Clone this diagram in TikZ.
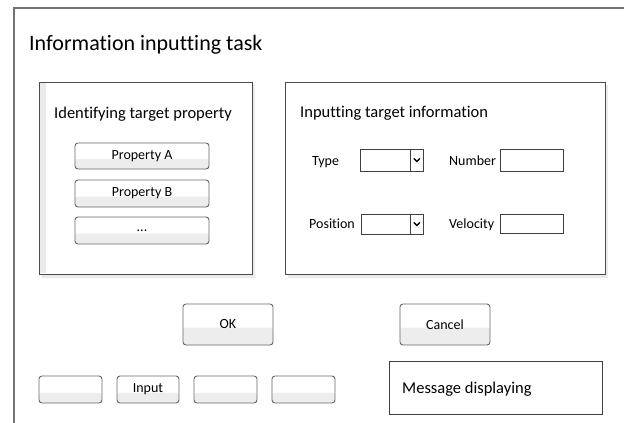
\documentclass[tikz,border=0pt]{standalone}
\usepackage{fontspec}
\setmainfont{Carlito}[Ligatures={NoCommon}]
\begin{document}
\begin{tikzpicture}[x=1pt,y=-1pt,
  btn/.style={draw=black!60, line width=0.9pt, rounded corners=3pt, inner sep=0pt,
    font=\fontsize{14}{16}\selectfont,
    path picture={\fill[black!7] ([yshift=-3pt]path picture bounding box.west) rectangle (path picture bounding box.south east);}},
  panel/.style={draw=black!70, line width=1pt, fill=white},
  shadow/.style={fill=black!8},
  field/.style={draw=black!75, line width=0.8pt, inner sep=0pt, fill=white},
  lbl/.style={inner sep=0pt, font=\fontsize{14}{16}\selectfont, anchor=base west},
  head/.style={inner sep=0pt, font=\fontsize{16.5}{18}\selectfont, anchor=base west},
  chev/.style={line width=1.4pt, black}
]
\useasboundingbox (0,0) rectangle (624,423);
% outer frame
\draw[black!55, line width=1.1pt] (14,430) -- (14,8) -- (630,8);
\node[inner sep=0pt, anchor=base west, font=\fontsize{22}{26}\selectfont] (title) at (29,50) {Information inputting task};

% left panel
\fill[shadow] (42,85) rectangle (255,278);
\draw[panel] (39,82) rectangle (252,274);
\fill[black!8] (40,83) rectangle (46,273);
\node[head] (lhead) at (54,118) {Identifying target property};
\node[btn, minimum width=134pt, minimum height=26pt] (pa) at (142,156) {Property A};
\node[btn, minimum width=134pt, minimum height=27pt] (pb) at (142,193.5) {Property B};
\node[btn, minimum width=134pt, minimum height=27pt] (pc) at (142,230.5) {...};

% right panel
\fill[shadow] (288,85) rectangle (608,278);
\draw[panel] (285,82) rectangle (605,274);
\node[head] (rhead) at (300,117) {Inputting target information};

\node[lbl] (ltype) at (312,165) {Type};
\node[field, minimum width=63pt, minimum height=22pt] (ddtype) at (391.5,160) {};
\draw[black!75, line width=0.8pt] ([xshift=-13pt]ddtype.north east) -- ([xshift=-13pt]ddtype.south east);
\draw[chev] ([xshift=-9.5pt,yshift=1.5pt]ddtype.east) -- ([xshift=-6.5pt,yshift=-1.5pt]ddtype.east) -- ([xshift=-3.5pt,yshift=1.5pt]ddtype.east);

\node[lbl] (lnum) at (449,165) {Number};
\node[field, minimum width=63pt, minimum height=22pt] (fnum) at (531.5,160) {};

\node[lbl] (lpos) at (309,228) {Position};
\node[field, minimum width=62pt, minimum height=20pt] (ddpos) at (392,224) {};
\draw[black!75, line width=0.8pt] ([xshift=-13pt]ddpos.north east) -- ([xshift=-13pt]ddpos.south east);
\draw[chev] ([xshift=-9.5pt,yshift=1.5pt]ddpos.east) -- ([xshift=-6.5pt,yshift=-1.5pt]ddpos.east) -- ([xshift=-3.5pt,yshift=1.5pt]ddpos.east);

\node[lbl] (lvel) at (449,228) {Velocity};
\node[field, minimum width=63pt, minimum height=19pt] (fvel) at (531.5,223.5) {};

% OK / Cancel
\node[btn, minimum width=90pt, minimum height=41pt] (ok) at (228,324.5) {OK};
\node[btn, minimum width=90pt, minimum height=41pt] (cancel) at (445,324.5) {Cancel};

% bottom buttons
\node[btn, minimum width=63pt, minimum height=27pt] (b1) at (70.5,389.5) {};
\node[btn, minimum width=62pt, minimum height=27pt] (b2) at (148,389.5) {Input};
\node[btn, minimum width=63pt, minimum height=27pt] (b3) at (225.5,389.5) {};
\node[btn, minimum width=63pt, minimum height=27pt] (b4) at (303.5,389.5) {};

% message box
\node[draw=black!75, line width=0.9pt, minimum width=213pt, minimum height=53pt, inner sep=0pt] (msg) at (495.5,387.5) {};
\node[head] (msgtext) at (402,393) {Message displaying};
\end{tikzpicture}
\end{document}
